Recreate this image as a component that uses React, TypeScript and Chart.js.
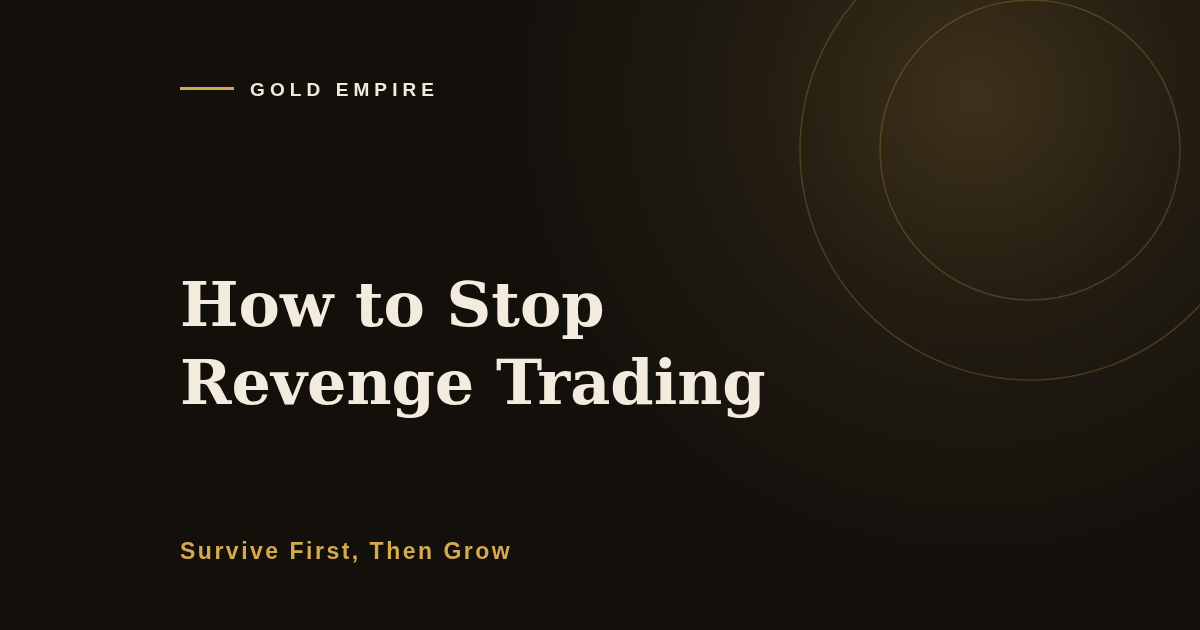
import { useEffect, useRef } from "react"
import { Chart, registerables } from "chart.js"

Chart.register(...registerables)

// decorative rings, drawn as bubbles on a 1200 x 630 value grid
const ringX = [1030, 1030]
const ringY = [150, 150]
const ringRadius = [150, 230]

const glowCenter = [975, 98]

const brand = "GOLD EMPIRE"
const titleLines = ["How to Stop", "Revenge Trading"]
const tagline = "Survive First, Then Grow"

const backdrop = {
  id: "backdrop",
  beforeDraw(chart: Chart) {
    const { ctx, width, height } = chart
    const gx = chart.scales.x.getPixelForValue(glowCenter[0])
    const gy = chart.scales.y.getPixelForValue(glowCenter[1])
    ctx.save()
    ctx.fillStyle = "#13100c"
    ctx.fillRect(0, 0, width, height)
    const g = ctx.createRadialGradient(gx, gy, 0, gx, gy, 480)
    g.addColorStop(0, "rgba(212,168,75,0.22)")
    g.addColorStop(0.45, "rgba(212,168,75,0.08)")
    g.addColorStop(1, "rgba(212,168,75,0)")
    ctx.fillStyle = g
    ctx.fillRect(0, 0, width, height)
    ctx.restore()
  },
}

export default function App() {
  const chartRef = useRef<HTMLCanvasElement>(null)
  const chartInstance = useRef<Chart | null>(null)

  useEffect(() => {
    document.body.style.margin = "0"
    if (!chartRef.current) return
    if (chartInstance.current) chartInstance.current.destroy()

    const ctx = chartRef.current.getContext("2d")
    if (!ctx) return

    chartInstance.current = new Chart(ctx, {
      type: "bubble",
      data: {
        datasets: [
          {
            data: ringX.map((x, i) => ({ x, y: ringY[i], r: ringRadius[i] })),
            backgroundColor: "rgba(0,0,0,0)",
            borderColor: "rgba(212,168,75,0.24)",
            borderWidth: 1.5,
            clip: false,
          },
        ],
      },
      options: {
        responsive: false,
        animation: false,
        events: [],
        layout: { padding: 0, autoPadding: false },
        plugins: { legend: { display: false }, tooltip: { enabled: false } },
        scales: {
          x: { type: "linear", min: 0, max: 1200, display: false },
          y: { type: "linear", min: 0, max: 630, reverse: true, display: false },
        },
      },
      plugins: [backdrop],
    })

    return () => {
      if (chartInstance.current) {
        chartInstance.current.destroy()
        chartInstance.current = null
      }
    }
  }, [])

  return (
    <div style={{ position: "fixed", left: 0, top: 0, width: 1200, height: 630, overflow: "hidden" }}>
      <canvas ref={chartRef} width={1200} height={630} style={{ position: "absolute", left: 0, top: 0 }}></canvas>
      <div
        style={{
          position: "absolute",
          left: 180,
          top: 79,
          display: "flex",
          alignItems: "center",
          height: 20,
        }}
      >
        <div style={{ width: 54, height: 3, background: "#d4a84b", marginRight: 16, marginTop: -2 }}></div>
        <div
          style={{
            fontFamily: "'Liberation Sans', Arial, sans-serif",
            fontWeight: 700,
            fontSize: 19,
            letterSpacing: "5.1px",
            color: "#f2eadc",
            lineHeight: 1,
          }}
        >
          {brand}
        </div>
      </div>
      <div
        style={{
          position: "absolute",
          left: 180,
          top: 266,
          fontFamily: "'DejaVu Serif', serif",
          fontWeight: 700,
          fontSize: 62,
          lineHeight: "78px",
          color: "#f3ebdd",
        }}
      >
        {titleLines.map((l) => (
          <div key={l}>{l}</div>
        ))}
      </div>
      <div
        style={{
          position: "absolute",
          left: 180,
          top: 540,
          fontFamily: "'Liberation Sans', Arial, sans-serif",
          fontWeight: 700,
          fontSize: 23,
          lineHeight: 1,
          letterSpacing: "2.5px",
          color: "#d4a94f",
        }}
      >
        {tagline}
      </div>
    </div>
  )
}
